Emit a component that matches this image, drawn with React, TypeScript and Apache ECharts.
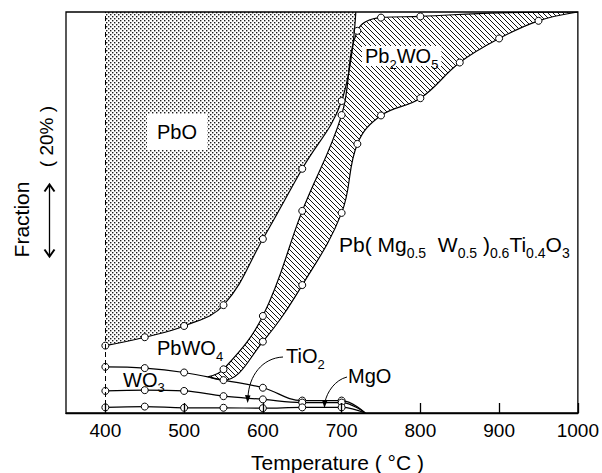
import React, { useEffect, useRef } from "react";
import * as echarts from "echarts";

// Temperature ticks (°C)
const tickTemps = [400, 500, 600, 700, 800, 900, 1000];

// Cumulative phase fractions (%), each array is the upper edge of a phase band.
// Points listed in the "Top" arrays are measured points (drawn with circles);
// the start/end arrays are where a boundary meets another one (no marker).
const mgoTop = [[400, 1.4], [450, 1.6], [500, 1.3], [550, 1.3], [600, 1.2], [650, 1.4], [700, 1.4]];
const tio2Top = [[400, 5.5], [450, 5.7], [500, 5.5], [550, 4.2], [600, 3.4], [650, 2.6], [700, 2.6]];
const wo3Top = [[400, 11.5], [450, 11.2], [500, 10.1], [550, 8.2], [600, 6.3], [650, 3.1], [700, 3.1]];
const oxidesEnd = [[730, 0]];

const pbwo4Top = [[400, 16.8], [450, 18.9], [500, 21.7], [550, 26.9], [600, 43.4], [650, 60.9], [700, 77.8]];
const pbwo4TopEnd = [[718, 100]];

const pb2wo5TopStart = [[530, 9.0]];
const pb2wo5Top = [[550, 10.9], [600, 24.2], [650, 50.4], [700, 74.3], [720, 95.3], [750, 98.6], [800, 98.9]];
const pb2wo5TopEnd = [[900, 99.8], [1000, 100]];

const perovskiteStart = [[533, 8.9], [550, 8.2]];
const perovskiteTop = [[600, 17.8], [650, 31.9], [700, 49.9], [720, 67.1], [750, 74.2], [800, 78.5], [850, 87.4], [900, 93.4], [950, 97.8]];
const perovskiteEnd = [[1000, 100]];

const FONT = "'Liberation Sans', Arial, Helvetica, sans-serif";

function makeDots(): HTMLCanvasElement {
  const c = document.createElement("canvas");
  c.width = 4;
  c.height = 4;
  const ctx = c.getContext("2d")!;
  ctx.fillStyle = "#1c1c1c";
  ctx.fillRect(0, 0, 1.4, 1.4);
  ctx.fillRect(2, 2, 1.4, 1.4);
  return c;
}

function makeHatch(): HTMLCanvasElement {
  const s = 5;
  const c = document.createElement("canvas");
  c.width = s;
  c.height = s;
  const ctx = c.getContext("2d")!;
  ctx.fillStyle = "#fff";
  ctx.fillRect(0, 0, s, s);
  ctx.strokeStyle = "#111";
  ctx.lineWidth = 1;
  ctx.beginPath();
  ctx.moveTo(-1, -1);
  ctx.lineTo(s + 1, s + 1);
  ctx.moveTo(-1, s - 1);
  ctx.lineTo(1, s + 1);
  ctx.moveTo(s - 1, -1);
  ctx.lineTo(s + 1, 1);
  ctx.stroke();
  return c;
}

const marked = (pts: number[][]) => pts.map((p) => ({ value: p }));
const plain = (pts: number[][]) => pts.map((p) => ({ value: p, symbol: "none" }));

const rich = (main: number, sub: number, drop: number) => ({
  m: { fontSize: main, lineHeight: main, fontFamily: FONT, fill: "#000" },
  s: { fontSize: sub, lineHeight: sub, fontFamily: FONT, fill: "#000", padding: [drop, 0, 0, 0] },
});

const phaseLabel = (text: string, x: number, y: number, extra: any = {}) => ({
  type: "text",
  x,
  y,
  z: 50,
  silent: true,
  style: {
    text,
    rich: rich(20, 13, 16),
    fontFamily: FONT,
    fontSize: 20,
    fill: "#000",
    align: "left",
    verticalAlign: "middle",
    textAlign: "left",
    textVerticalAlign: "middle",
    ...extra,
  },
});

const centeredText = (text: string, x: number, y: number, size: number, rotation = 0) => ({
  type: "text",
  x,
  y,
  rotation,
  silent: true,
  style: {
    text,
    fontFamily: FONT,
    fontSize: size,
    fill: "#000",
    align: "center",
    verticalAlign: "middle",
    textAlign: "center",
    textVerticalAlign: "middle",
  },
});

export default function App() {
  const ref = useRef<HTMLDivElement>(null);

  useEffect(() => {
    document.body.style.margin = "0";
    const chart = echarts.init(ref.current!, undefined, { renderer: "svg" });

    const dots = { image: makeDots(), repeat: "repeat", imageWidth: 4, imageHeight: 4 };
    const hatch = { image: makeHatch(), repeat: "repeat", imageWidth: 5, imageHeight: 5 };

    const baseLine: any = {
      type: "line",
      smooth: 0.4,
      symbol: "circle",
      symbolSize: 7,
      silent: true,
      emphasis: { disabled: true },
      lineStyle: { color: "#000", width: 1.2 },
      itemStyle: { color: "#fff", borderColor: "#000", borderWidth: 1 },
    };

    const option: any = {
      animation: false,
      grid: {
        left: 66,
        right: 19,
        top: 12,
        bottom: 60,
        show: true,
        borderColor: "#000",
        borderWidth: 1.3,
        backgroundColor: "transparent",
        z: 10,
      },
      xAxis: {
        type: "value",
        min: 350,
        max: 1000,
        z: 10,
        splitLine: { show: false },
        axisLine: { lineStyle: { color: "#000", width: 1.3 } },
        axisTick: {
          inside: true,
          length: 10,
          customValues: tickTemps,
          lineStyle: { color: "#000", width: 1.3 },
        },
        axisLabel: {
          customValues: tickTemps,
          formatter: (v: number) => String(v),
          color: "#000",
          fontSize: 19,
          fontFamily: FONT,
          margin: 8,
        },
      },
      yAxis: {
        type: "value",
        min: 0,
        max: 100,
        axisLine: { show: false },
        axisTick: { show: false },
        axisLabel: { show: false },
        splitLine: { show: false },
      },
      series: [
        {
          ...baseLine,
          name: "Perovskite top",
          z: 1,
          areaStyle: { origin: "end", color: hatch, opacity: 1 },
          data: [...plain(perovskiteStart), ...marked(perovskiteTop), ...plain(perovskiteEnd)],
        },
        {
          ...baseLine,
          name: "Pb2WO5 top",
          z: 2,
          areaStyle: { origin: "end", color: "#fff", opacity: 1 },
          data: [...plain(pb2wo5TopStart), ...marked(pb2wo5Top), ...plain(pb2wo5TopEnd)],
        },
        {
          ...baseLine,
          name: "PbWO4 top",
          z: 3,
          areaStyle: { origin: "end", color: dots, opacity: 1 },
          data: [...marked(pbwo4Top), ...plain(pbwo4TopEnd)],
        },
        {
          ...baseLine,
          name: "WO3 top",
          z: 4,
          data: [...marked(wo3Top), ...plain(oxidesEnd)],
        },
        {
          ...baseLine,
          name: "TiO2 top",
          z: 4,
          data: [...marked(tio2Top), ...plain(oxidesEnd)],
        },
        {
          ...baseLine,
          name: "MgO top",
          z: 4,
          data: [...marked(mgoTop), ...plain(oxidesEnd)],
          markLine: {
            silent: true,
            symbol: ["none", "none"],
            label: { show: false },
            lineStyle: { color: "#000", type: [5, 3], width: 1 },
            data: [{ xAxis: 400 }],
          },
        },
      ],
      graphic: [
        phaseLabel("PbO", 147, 132, { backgroundColor: "#fff", padding: [8, 10, 8, 10] }),
        phaseLabel("{m|Pb}{s|2}{m|WO}{s|5}", 362, 56, { backgroundColor: "#fff", padding: [0, 3, 0, 3] }),
        phaseLabel("{m|PbWO}{s|4}", 157, 348),
        phaseLabel("{m|WO}{s|3}", 123, 379.5),
        phaseLabel("{m|TiO}{s|2}", 286, 356),
        phaseLabel("MgO", 348, 376),
        phaseLabel(
          "{m|Pb( Mg}{s|0.5}{m|  W}{s|0.5}{m| )}{s|0.6}{m|Ti}{s|0.4}{m|O}{s|3}",
          339,
          244.5,
          { rich: rich(21, 14, 17) }
        ),
        // leader lines to the thin oxide bands
        {
          type: "bezierCurve",
          z: 50,
          silent: true,
          shape: { x1: 283, y1: 357, x2: 248, y2: 397, cpx1: 262, cpy1: 358, cpx2: 249, cpy2: 376 },
          style: { stroke: "#000", lineWidth: 1, fill: null },
        },
        {
          type: "polygon",
          z: 50,
          silent: true,
          shape: { points: [[245, 395], [250.5, 395.5], [247.6, 403]] },
          style: { fill: "#000" },
        },
        {
          type: "bezierCurve",
          z: 50,
          silent: true,
          shape: { x1: 347, y1: 377, x2: 325, y2: 402, cpx1: 335, cpy1: 380, cpx2: 327, cpy2: 392 },
          style: { stroke: "#000", lineWidth: 1, fill: null },
        },
        {
          type: "polygon",
          z: 50,
          silent: true,
          shape: { points: [[322, 400], [327.5, 400.5], [324.4, 408]] },
          style: { fill: "#000" },
        },
        // axis titles
        centeredText("Temperature ( °C )", 337.5, 462.5, 21),
        centeredText("Fraction", 21, 219.5, 21, Math.PI / 2),
        centeredText("( 20% )", 46, 136.5, 19, Math.PI / 2),
        // 20 % scale arrow
        {
          type: "line",
          silent: true,
          shape: { x1: 49.5, y1: 185, x2: 49.5, y2: 256 },
          style: { stroke: "#000", lineWidth: 1.3 },
        },
        {
          type: "polyline",
          silent: true,
          shape: { points: [[44.5, 191.5], [49.5, 184.5], [54.5, 191.5]] },
          style: { stroke: "#000", lineWidth: 2, fill: null },
        },
        {
          type: "polyline",
          silent: true,
          shape: { points: [[44.5, 249.5], [49.5, 256.5], [54.5, 249.5]] },
          style: { stroke: "#000", lineWidth: 2, fill: null },
        },
      ],
    };

    chart.setOption(option);
    return () => chart.dispose();
  }, []);

  return <div ref={ref} style={{ width: 602, height: 473 }} />;
}
